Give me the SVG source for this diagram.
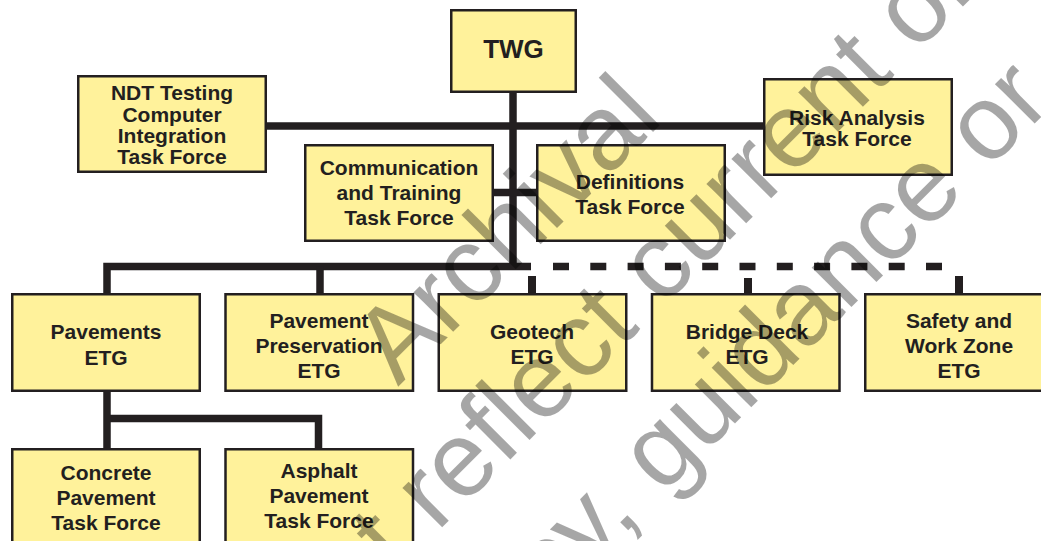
<svg xmlns="http://www.w3.org/2000/svg" width="1041" height="541" viewBox="0 0 1041 541">
<style>
.box{fill:#fff29b;stroke:#231f20;stroke-width:2.5}
.t{font-family:"Liberation Sans",Arial,Helvetica,sans-serif;font-weight:bold;font-size:21px;fill:#231f20;text-anchor:middle}
.ln{fill:none;stroke:#231f20;stroke-width:7.5;stroke-linejoin:miter}
.wm{font-family:"Liberation Sans",Arial,Helvetica,sans-serif;font-size:106px;fill:#000;fill-opacity:0.35}
</style>
<rect width="1041" height="541" fill="#fff"/>
<g id="connectors">
<path class="ln" d="M513 93V270"/>
<path class="ln" d="M267 126H763"/>
<path class="ln" d="M493 192.5H536"/>
<path class="ln" d="M107 293V266.5H531"/>
<path class="ln" d="M320 266.5V293"/>
<path class="ln" d="M553 266.5H943" stroke-dasharray="16 21.3"/>
<path class="ln" d="M532 276V293M748 278V293M959 276V293" style="stroke-width:8"/>
<path class="ln" d="M107 392V448M107 418.5H318.5V448"/>
</g>
<g id="twg"><rect class="box" x="451.25" y="10.25" width="124.5" height="81.5"/><text class="t" x="513.5" y="58" style="font-size:26px">TWG</text></g>
<g id="ndt"><rect class="box" x="78.25" y="76.25" width="187.5" height="95.5"/><text class="t" x="172"><tspan x="172" y="100">NDT Testing</tspan><tspan x="172" y="121.5">Computer</tspan><tspan x="172" y="142.5">Integration</tspan><tspan x="172" y="163.5">Task Force</tspan></text></g>
<g id="comm"><rect class="box" x="305.25" y="145.25" width="187.5" height="95.5"/><text class="t"><tspan x="399" y="175">Communication</tspan><tspan x="399" y="200">and Training</tspan><tspan x="399" y="224.5">Task Force</tspan></text></g>
<g id="defs"><rect class="box" x="537.25" y="145.25" width="187.5" height="95.5"/><text class="t"><tspan x="630" y="189">Definitions</tspan><tspan x="630" y="213.5">Task Force</tspan></text></g>
<g id="risk"><rect class="box" x="764.25" y="79.25" width="187.5" height="95.5"/><text class="t"><tspan x="857" y="124.5">Risk Analysis</tspan><tspan x="857" y="145.5">Task Force</tspan></text></g>
<g id="pavements"><rect class="box" x="12.25" y="294.25" width="187.5" height="96.5"/><text class="t"><tspan x="106" y="338.5">Pavements</tspan><tspan x="106" y="364.5">ETG</tspan></text></g>
<g id="pavpres"><rect class="box" x="225.5" y="294.25" width="187.5" height="96.5"/><text class="t"><tspan x="319" y="327.5">Pavement</tspan><tspan x="319" y="352.5">Preservation</tspan><tspan x="319" y="377.5">ETG</tspan></text></g>
<g id="geotech"><rect class="box" x="438.75" y="294.25" width="187.5" height="96.5"/><text class="t"><tspan x="532" y="338.5">Geotech</tspan><tspan x="532" y="363.5">ETG</tspan></text></g>
<g id="bridge"><rect class="box" x="652" y="294.25" width="187.5" height="96.5"/><text class="t"><tspan x="747" y="338.5">Bridge Deck</tspan><tspan x="747" y="363.5">ETG</tspan></text></g>
<g id="safety"><rect class="box" x="865.25" y="294.25" width="187.5" height="96.5"/><text class="t"><tspan x="959" y="327.5">Safety and</tspan><tspan x="959" y="352.5">Work Zone</tspan><tspan x="959" y="377.5">ETG</tspan></text></g>
<g id="concrete"><rect class="box" x="12.25" y="449.25" width="187.5" height="96.5"/><text class="t"><tspan x="106" y="480">Concrete</tspan><tspan x="106" y="505">Pavement</tspan><tspan x="106" y="530">Task Force</tspan></text></g>
<g id="asphalt"><rect class="box" x="225.5" y="449.25" width="187.5" height="96.5"/><text class="t"><tspan x="319" y="478">Asphalt</tspan><tspan x="319" y="503">Pavement</tspan><tspan x="319" y="528">Task Force</tspan></text></g>
<g id="watermark">
<text class="wm" x="398" y="387" transform="rotate(-45 398 387)">Archival</text>
<text class="wm" x="312" y="657.6" transform="rotate(-45 312 657.6)">not reflect current or</text>
<text class="wm" x="435.1" y="723.3" transform="rotate(-45 435.1 723.3)">policy, guidance or</text>
</g>
</svg>
